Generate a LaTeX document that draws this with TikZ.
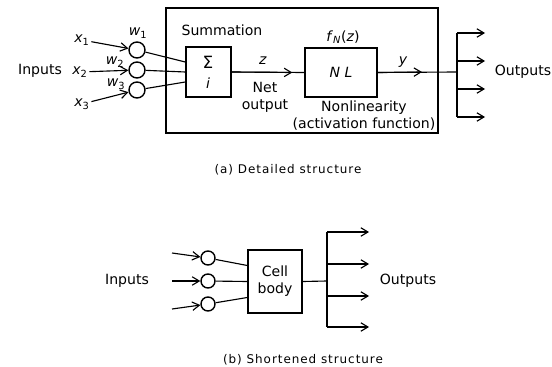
\documentclass[tikz,border=0pt]{standalone}
\usepackage{fontspec}
\setmainfont{DejaVu Sans}
\newfontfamily\piefont[LetterSpace=8]{DejaVu Sans}
\usetikzlibrary{arrows.meta}
\newcommand{\vsub}[2]{\textit{#1}\textsubscript{#2}}

\begin{document}
\begin{tikzpicture}[x=0.025cm, y=-0.025cm,
    linea/.style={line width=0.8pt},
    flecha/.style={linea, -{Straight Barb[length=5pt, width=6pt]}},
    caja/.style={draw, line width=1pt, inner sep=0pt},
    peso/.style={draw, circle, line width=1pt, inner sep=0pt},
    texto/.style={font=\fontsize{10}{12}\selectfont, align=center, inner sep=1pt},
    pie/.style={font=\piefont\fontsize{8.5}{10}\selectfont}]
  \useasboundingbox (0,0) rectangle (552,367);
  % (a) estructura detallada
  \node[caja, minimum width=6.8cm, minimum height=3.125cm] (celda) at (302,70.5) {};
  \node[caja, minimum width=1.125cm, minimum height=1.25cm] (suma) at (208.5,72) {};
  \node[texto, font=\fontsize{12}{12}\selectfont] (sigma) at (208,62) {Σ};
  \node[texto] (ind) at (208,83) {\textit{i}};
  \node[caja, minimum width=1.8cm, minimum height=1.225cm, texto] (nl) at (341,72.5) {\textit{N L}};
  \node[texto] (sumlab) at (222,30) {Summation};
  \node[texto] (fn) at (343,37) {\textit{f}\textsubscript{\textit{N}}(\textit{z})};
  \node[texto] (net) at (265,97) {Net\\output};
  \node[texto] (nolin) at (364,116) {Nonlinearity\\(activation function)};
  \node[texto] (entradas) at (40,71) {Inputs};
  \node[texto] (salidas) at (523,72) {Outputs};
  % pesos de entrada
  \foreach \i/\y/\xx/\xy/\wx/\wy/\d in {1/50/82/40/138/33/2.5,2/70/80/72/115/62/0,3/90/82/104/116/84/-2.5}{
    \node[peso, minimum size=0.4cm] (p\i) at (137,\y) {};
    \node[texto] (x\i) at (\xx,\xy) {\vsub{x}{\i}};
    \node[texto] (w\i) at (\wx,\wy) {\vsub{w}{\i}};
    \draw[flecha] (x\i) -- (p\i);
    \draw[linea] (p\i) -- ([yshift=\d mm]suma.west);
  }
  % salida neta y no linealidad
  \draw[linea] (suma.east) -- (nl.west);
  \draw[flecha] (suma.east) -- ([xshift=-3mm]nl.west);
  \node[texto] (z) at (263,61) {\textit{z}};
  \coordinate (tronco) at (457,72);
  \draw[linea] (nl.east) -- (tronco);
  \draw[flecha] (nl.east) -- ([xshift=-8.75mm]tronco);
  \node[texto] (y) at (403,62) {\textit{y}};
  \foreach \i/\y in {1/33,2/61,3/89,4/117}{
    \coordinate (o\i) at (485,\y);
    \draw[flecha] (tronco |- o\i) -- (o\i);
  }
  \draw[linea] (tronco |- o1) -- (tronco |- o4);
  \node[pie] (capa) at (288,170) {(a) Detailed structure};
  % (b) estructura abreviada
  \node[caja, minimum width=1.35cm, minimum height=1.575cm, texto] (cuerpo) at (275,281.5) {Cell\\body};
  \foreach \i/\y/\ey/\d in {1/258/253/4,2/281/281/0,3/304/309/-4}{
    \node[peso, minimum size=0.35cm] (q\i) at (208,\y) {};
    \coordinate (e\i) at (172,\ey);
    \draw[flecha] (e\i) -- (q\i);
    \draw[linea] (q\i) -- ([yshift=\d mm]cuerpo.west);
  }
  \coordinate (rama) at (327,281);
  \draw[linea] (cuerpo.east) -- (rama);
  \foreach \i/\y in {1/232,2/264,3/296,4/327}{
    \coordinate (s\i) at (369,\y);
    \draw[flecha] (rama |- s\i) -- (s\i);
  }
  \draw[linea] (rama |- s1) -- (rama |- s4);
  \node[texto] (entradasb) at (127,281) {Inputs};
  \node[texto] (salidasb) at (408,281) {Outputs};
  \node[pie] (capb) at (303,360) {(b) Shortened structure};
\end{tikzpicture}
\end{document}
